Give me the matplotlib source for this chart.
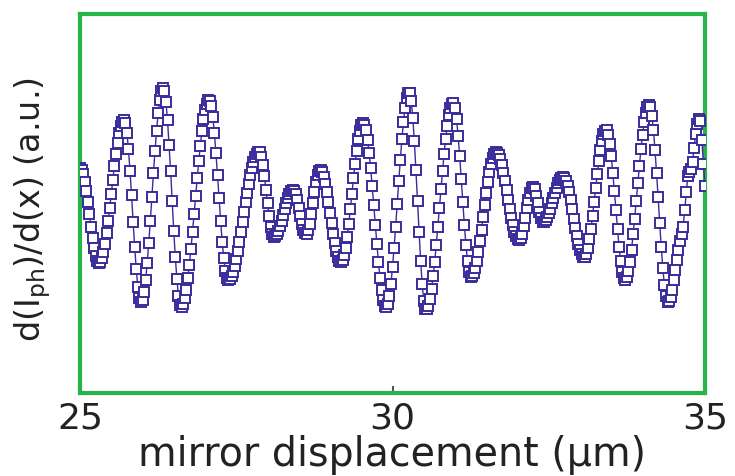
import numpy as np
import matplotlib
matplotlib.use("Agg")
import matplotlib.pyplot as plt

plt.rcParams['font.family'] = ['DejaVu Sans']
plt.rcParams['mathtext.fontset'] = 'dejavusans'

# mirror displacement range (µm), uniformly sampled scan
x_start, x_stop = 25.0, 35.0

# derivative signal (a.u.)
signal = [
    32, 30, 26, 18, 9, -2, -14, -27, -38, -48, -56, -61, -63,
    -62, -58, -52, -44, -33, -21, -8, 6, 20, 34, 46, 57, 67, 74, 78, 80,
    77, 67, 51, 29, 5, -22, -47, -69, -87, -98, -102,
    -100, -92, -80, -63, -43, -21, 3, 27, 49, 69, 87, 100, 109, 112,
    109, 98, 80, 55, 29, -1, -31, -57, -79, -96, -105,
    -107, -104, -98, -90, -78, -65, -49, -32, -14, 4, 22, 39, 54, 69, 81, 90, 96, 100,
    99, 94, 83, 67, 47, 25, 2, -21, -42, -58, -71, -78,
    -80, -79, -76, -72, -66, -59, -51, -42, -32, -22, -12, -2, 7, 16, 25, 32, 38, 43, 46, 48,
    48, 43, 35, 24, 10, -3, -16, -27, -34, -37,
    -36, -34, -31, -26, -21, -15, -9, -3, 2, 6, 9, 10,
    9, 6, 0, -8, -16, -24, -30, -33,
    -34, -30, -24, -14, -3, 8, 18, 25, 29,
    30, 28, 23, 16, 8, -2, -13, -23, -34, -43, -51, -57, -61, -62,
    -60, -55, -48, -37, -24, -9, 6, 22, 36, 49, 61, 69, 75, 77,
    75, 70, 60, 47, 32, 14, -5, -25, -44, -62, -78, -90, -100, -106,
    -107, -104, -96, -84, -67, -48, -27, -4, 19, 40, 61, 78, 92, 102, 107,
    107, 99, 82, 59, 30, -1, -32, -61, -84, -101, -109,
    -109, -106, -99, -89, -76, -62, -45, -27, -8, 11, 29, 46, 61, 74, 85, 92, 96,
    97, 92, 81, 64, 44, 21, -2, -25, -45, -61, -72, -77,
    -76, -73, -68, -61, -52, -41, -30, -17, -5, 7, 18, 28, 36, 42, 46, 48,
    47, 45, 41, 35, 27, 19, 10, 0, -9, -18, -25, -32, -36, -39,
    -40, -38, -34, -26, -18, -8, 0, 7, 12,
    13, 11, 4, -3, -12, -18, -22,
    -22, -20, -17, -13, -9, -3, 2, 7, 12, 17, 20, 22,
    23, 22, 19, 14, 8, 0, -9, -19, -28, -36, -44, -50, -54, -57,
    -57, -54, -48, -39, -29, -16, -2, 12, 26, 39, 50, 59, 66, 69,
    70, 65, 56, 44, 27, 9, -10, -29, -47, -61, -72, -78,
    -80, -77, -71, -62, -50, -34, -19, -1, 17, 34, 51, 65, 78, 87, 93,
    95, 93, 84, 70, 50, 27, 3, -23, -47, -68, -85, -96, -102,
    -101, -97, -90, -80, -70, -60, -50, -41, -34, -27, -10, 8, 24, 28, 31, 38, 52, 66, 76, 81, 79, 60, 36, 14,
]

x_ticks = [25, 30, 35]
x_ticklabels = ['25', '30', '35']
x_label = 'mirror displacement (µm)'
y_label = r'd(I$_{\rm ph}$)/d(x) (a.u.)'

displacement = np.linspace(x_start, x_stop, len(signal))

fig = plt.figure(figsize=(7.35, 4.76), dpi=100)
ax = fig.add_axes([80 / 735, 1 - 393 / 476, 625 / 735, 379 / 476])

blue = '#3a2c9a'
ax.plot(displacement, signal, '-', color=blue, lw=1.0,
        marker='s', ms=7.0, mfc='white', mec=blue, mew=1.4, zorder=3)

ax.set_xlim(x_start, x_stop)
ax.set_ylim(-193, 186)

green = '#28b34b'
for s in ax.spines.values():
    s.set_color(green)
    s.set_linewidth(3.0)

ax.set_xticks(x_ticks)
ax.set_xticklabels(x_ticklabels)
ax.set_yticks([])
ax.tick_params(axis='x', direction='in', length=5, width=1.5, color='#555555',
               labelsize=26, labelcolor='#222222', pad=6)

fig.text((80 + 705) / 2 / 735, 1 - 466 / 476, x_label, fontsize=28.5,
         color='#222222', ha='center', va='baseline')
fig.text(33 / 735, 1 - 210 / 476, y_label, fontsize=24, color='#222222',
         rotation=90, ha='center', va='center')

fig.savefig('out.png', dpi=100)
